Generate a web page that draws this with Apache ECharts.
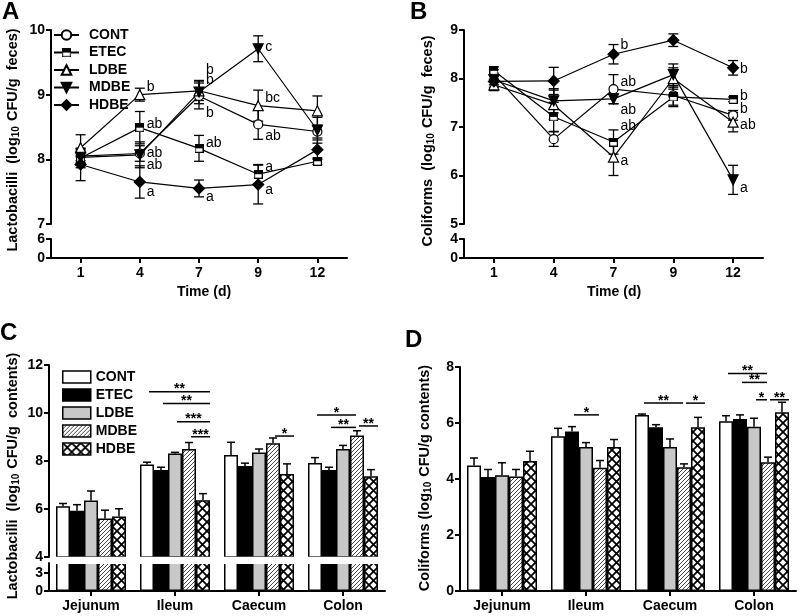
<!DOCTYPE html>
<html><head><meta charset="utf-8">
<script src="https://cdn.jsdelivr.net/npm/echarts@6/dist/echarts.min.js"></script>
<style>html,body{margin:0;padding:0;background:#fff}#c{width:800px;height:616px}</style>
</head><body><div id="c"></div>
<script>
// ---------------- data ----------------
const days = ['1', '4', '7', '9', '12'];
const sites = ['Jejunum', 'Ileum', 'Caecum', 'Colon'];
const groups = ['CONT', 'ETEC', 'LDBE', 'MDBE', 'HDBE'];

// Panel A: Lactobacilli in feces (rows = groups, cols = days)
const lacFecesMean = [
  [8.05, 8.09, 8.98, 8.54, 8.43],
  [8.02, 8.49, 8.17, 7.77, 7.97],
  [8.18, 9.00, 9.06, 8.83, 8.75],
  [8.03, 8.07, 9.04, 9.71, 8.45],
  [7.92, 7.65, 7.55, 7.61, 8.15]
];
const lacFecesSem = [
  [0.10, 0.12, 0.20, 0.23, 0.10],
  [0.15, 0.25, 0.20, 0.15, 0.05],
  [0.20, 0.10, 0.15, 0.24, 0.23],
  [0.10, 0.20, 0.18, 0.20, 0.20],
  [0.25, 0.25, 0.13, 0.30, 0.15]
];
const lacFecesLetters = [
  [1, 9.11, 'b'], [1, 8.54, 'ab'], [1, 8.09, 'ab'], [1, 7.91, 'ab'], [1, 7.49, 'a'],
  [2, 9.38, 'b'], [2, 9.22, 'b'], [2, 8.72, 'b'], [2, 8.25, 'ab'], [2, 7.42, 'a'],
  [3, 9.73, 'c'], [3, 8.94, 'bc'], [3, 8.36, 'ab'], [3, 7.88, 'a'], [3, 7.52, 'a']
];

// Panel B: Coliforms in feces
const colFecesMean = [
  [8.08, 6.75, 7.78, 7.65, 7.24],
  [8.16, 7.21, 6.69, 7.62, 7.57],
  [7.87, 7.46, 6.38, 8.00, 7.10],
  [7.97, 7.54, 7.58, 8.08, 5.91],
  [7.94, 7.95, 8.50, 8.79, 8.22]
];
const colFecesSem = [
  [0.10, 0.15, 0.30, 0.20, 0.10],
  [0.08, 0.30, 0.25, 0.20, 0.05],
  [0.12, 0.30, 0.38, 0.22, 0.20],
  [0.10, 0.25, 0.10, 0.22, 0.30],
  [0.12, 0.28, 0.20, 0.13, 0.15]
];
const colFecesLetters = [
  [2, 8.69, 'b'], [2, 7.93, 'ab'], [2, 7.34, 'ab'], [2, 7.02, 'ab'], [2, 6.29, 'a'],
  [4, 8.19, 'b'], [4, 7.63, 'b'], [4, 7.36, 'b'], [4, 7.03, 'ab'], [4, 5.74, 'a']
];

// Panel C: Lactobacilli in gut contents (rows = groups, cols = sites)
const lacGutMean = [
  [6.11, 7.85, 8.25, 7.92],
  [5.93, 7.62, 7.79, 7.62],
  [6.35, 8.31, 8.35, 8.50],
  [5.60, 8.50, 8.74, 9.06],
  [5.69, 6.36, 7.46, 7.36]
];
const lacGutSem = [
  [0.12, 0.10, 0.53, 0.22],
  [0.25, 0.12, 0.12, 0.12],
  [0.40, 0.05, 0.15, 0.15],
  [0.35, 0.27, 0.22, 0.20],
  [0.32, 0.28, 0.42, 0.28]
];
// [site, fromGroup, toGroup, value, label]
const lacGutSig = [
  [1, 0, 4, 10.89, '**'], [1, 1, 4, 10.40, '**'], [1, 2, 4, 9.64, '***'], [1, 3, 4, 9.01, '***'],
  [2, 3, 4, 9.04, '*'],
  [3, 0, 3, 9.92, '*'], [3, 1, 3, 9.40, '**'], [3, 3, 4, 9.46, '**']
];

// Panel D: Coliforms in gut contents
const colGutMean = [
  [4.48, 5.53, 6.29, 6.06],
  [4.07, 5.70, 5.85, 6.14],
  [4.13, 5.14, 5.14, 5.87],
  [4.09, 4.40, 4.42, 4.60],
  [4.64, 5.14, 5.85, 6.38]
];
const colGutSem = [
  [0.27, 0.28, 0.03, 0.20],
  [0.27, 0.17, 0.09, 0.15],
  [0.45, 0.16, 0.29, 0.30],
  [0.25, 0.26, 0.12, 0.18],
  [0.35, 0.27, 0.35, 0.36]
];
const colGutSig = [
  [1, 1, 3, 6.29, '*'],
  [2, 0, 3, 6.71, '**'], [2, 3, 4, 6.71, '*'],
  [3, 0, 3, 7.77, '**'], [3, 1, 3, 7.45, '**'], [3, 2, 3, 6.83, '*'], [3, 3, 4, 6.83, '**']
];

// ---------------- styles ----------------
const FONT = 'Arial, "Liberation Sans", sans-serif';
const BAR_W = 14;

function makeCanvas(w, h, draw) {
  const c = document.createElement('canvas'); c.width = w; c.height = h;
  draw(c.getContext('2d'), w, h); return c;
}
const halfSquare = 'image://' + makeCanvas(20, 20, (g) => {
  g.fillStyle = '#fff'; g.fillRect(1, 1, 18, 18);
  g.fillStyle = '#000'; g.fillRect(1, 1, 18, 9);
  g.strokeStyle = '#000'; g.lineWidth = 2.5; g.strokeRect(1.25, 1.25, 17.5, 17.5);
}).toDataURL();
const hatch = makeCanvas(4, 4, (g) => {
  g.fillStyle = '#fff'; g.fillRect(0, 0, 4, 4);
  g.strokeStyle = '#333'; g.lineWidth = 0.9; g.beginPath();
  g.moveTo(0, 4); g.lineTo(4, 0); g.moveTo(-1, 1); g.lineTo(1, -1); g.moveTo(3, 5); g.lineTo(5, 3);
  g.stroke();
});
const cross = makeCanvas(9, 9, (g) => {
  g.fillStyle = '#fff'; g.fillRect(0, 0, 9, 9);
  g.strokeStyle = '#000'; g.lineWidth = 1.8; g.beginPath();
  g.moveTo(0, 0); g.lineTo(9, 9); g.moveTo(9, 0); g.lineTo(0, 9);
  g.stroke();
});

const SYM = ['circle', halfSquare, 'triangle', 'triangle', 'diamond'];
const SYM_SIZE = [9, 9, 10, 10, 11];
const SYM_ROT = [0, 0, 0, 180, 0];
const SYM_FILL = ['#fff', '#000', '#fff', '#000', '#000'];
const BAR_STYLE = [
  { color: '#fff', borderColor: '#000', borderWidth: 1.5 },
  { color: '#000', borderColor: '#000', borderWidth: 1.5 },
  { color: '#c8c8c8', borderColor: '#000', borderWidth: 1.5 },
  { color: { image: hatch, repeat: 'repeat' }, borderColor: '#000', borderWidth: 1.5 },
  { color: { image: cross, repeat: 'repeat' }, borderColor: '#000', borderWidth: 1.5 }
];

const axisLine = { show: true, lineStyle: { color: '#000', width: 2 } };
const axisTick = { show: true, length: 5, lineStyle: { color: '#000', width: 2 } };
const axisLabel = { color: '#000', fontFamily: FONT, fontWeight: 'bold', fontSize: 14, margin: 6 };

function yAx(gridIndex, min, max, interval, extra) {
  return Object.assign({
    type: 'value', gridIndex, min, max, interval,
    axisLine, axisTick: Object.assign({}, axisTick), axisLabel: Object.assign({}, axisLabel),
    splitLine: { show: false }
  }, extra || {});
}
function xHidden(gridIndex, data) {
  return { type: 'category', gridIndex, data, show: false, boundaryGap: true };
}
function xShown(gridIndex, data) {
  return {
    type: 'category', gridIndex, data, boundaryGap: true,
    axisLine, axisTick: Object.assign({ alignWithLabel: true }, axisTick),
    axisLabel: Object.assign({}, axisLabel, { margin: 8 })
  };
}

// ---------------- series ----------------
const series = [];

function lineGroup(xi, yi, means) {
  groups.forEach((g, k) => series.push({
    type: 'line', name: g, xAxisIndex: xi, yAxisIndex: yi, data: means[k],
    symbol: SYM[k], symbolSize: SYM_SIZE[k], symbolRotate: SYM_ROT[k],
    lineStyle: { color: '#000', width: 1.2 },
    itemStyle: { color: SYM_FILL[k], borderColor: '#000', borderWidth: 1.2 },
    z: 5, silent: true, animation: false
  }));
}
function lineErr(xi, yi, means, sems) {
  const data = [];
  means.forEach((row, k) => row.forEach((v, i) => data.push([i, v, sems[k][i]])));
  series.push({
    type: 'custom', xAxisIndex: xi, yAxisIndex: yi, data, z: 4, silent: true, animation: false,
    renderItem: (p, api) => {
      const i = api.value(0), v = api.value(1), e = api.value(2);
      const a = api.coord([i, v + e]), b = api.coord([i, v - e]);
      const st = { stroke: '#000', lineWidth: 1.3 };
      return { type: 'group', children: [
        { type: 'line', shape: { x1: a[0], y1: a[1], x2: b[0], y2: b[1] }, style: st },
        { type: 'line', shape: { x1: a[0] - 5, y1: a[1], x2: a[0] + 5, y2: a[1] }, style: st },
        { type: 'line', shape: { x1: b[0] - 5, y1: b[1], x2: b[0] + 5, y2: b[1] }, style: st }
      ] };
    }
  });
}
function letterSeries(xi, yi, letters) {
  series.push({
    type: 'custom', xAxisIndex: xi, yAxisIndex: yi, data: letters.map(d => [d[0], d[1]]),
    z: 6, silent: true, animation: false,
    renderItem: (p, api) => {
      const c = api.coord([api.value(0), api.value(1)]);
      return { type: 'text', x: c[0] + 7, y: c[1], style: {
        text: letters[p.dataIndex][2], fill: '#000', font: '14px ' + FONT,
        align: 'left', verticalAlign: 'middle' } };
    }
  });
}
function barGroup(xi, yi, means) {
  groups.forEach((g, k) => series.push({
    type: 'bar', name: g, xAxisIndex: xi, yAxisIndex: yi, data: means[k],
    barWidth: BAR_W, barGap: '0%', clip: true, itemStyle: BAR_STYLE[k],
    silent: true, animation: false, z: 2
  }));
}
function barErr(xi, yi, means, sems) {
  const data = [];
  means.forEach((row, k) => row.forEach((v, i) => data.push([i, v, sems[k][i], k])));
  series.push({
    type: 'custom', xAxisIndex: xi, yAxisIndex: yi, data, z: 4, silent: true, animation: false,
    renderItem: (p, api) => {
      const i = api.value(0), v = api.value(1), e = api.value(2), k = api.value(3);
      const b = api.coord([i, v]), t = api.coord([i, v + e]);
      const x = b[0] + (k - 2) * BAR_W;
      const st = { stroke: '#000', lineWidth: 1.5 };
      return { type: 'group', children: [
        { type: 'line', shape: { x1: x, y1: b[1], x2: x, y2: t[1] }, style: st },
        { type: 'line', shape: { x1: x - 4, y1: t[1], x2: x + 4, y2: t[1] }, style: st }
      ] };
    }
  });
}
function sigSeries(xi, yi, sig) {
  series.push({
    type: 'custom', xAxisIndex: xi, yAxisIndex: yi, data: sig.map(d => [d[0], d[3]]),
    z: 6, silent: true, animation: false,
    renderItem: (p, api) => {
      const d = sig[p.dataIndex];
      const c = api.coord([api.value(0), api.value(1)]);
      const x1 = c[0] + (d[1] - 2) * BAR_W + 2;
      const x2 = c[0] + (d[2] - 2) * BAR_W + (d[2] === 4 ? 7 : -1);
      return { type: 'group', children: [
        { type: 'line', shape: { x1, y1: c[1], x2, y2: c[1] }, style: { stroke: '#000', lineWidth: 1.5 } },
        { type: 'text', x: (x1 + x2) / 2, y: c[1] + 5, style: {
          text: d[4], fill: '#000', font: 'bold 14px ' + FONT, align: 'center', verticalAlign: 'bottom' } }
      ] };
    }
  });
}

// A
lineErr(0, 0, lacFecesMean, lacFecesSem);
lineGroup(0, 0, lacFecesMean);
letterSeries(0, 0, lacFecesLetters);
// B
lineErr(2, 2, colFecesMean, colFecesSem);
lineGroup(2, 2, colFecesMean);
letterSeries(2, 2, colFecesLetters);
// C
barGroup(4, 4, lacGutMean);
barGroup(5, 5, lacGutMean);
barErr(4, 4, lacGutMean, lacGutSem);
sigSeries(4, 4, lacGutSig);
// D
barGroup(6, 6, colGutMean);
barErr(6, 6, colGutMean, colGutSem);
sigSeries(6, 6, colGutSig);

// ---------------- titles ----------------
function yTitle(x, y, pre, post) {
  return { type: 'text', x, y, rotation: Math.PI / 2, silent: true,
    style: {
      text: '{a|' + pre + '(log}{s|10}{a|' + post + ')}',
      fontFamily: FONT, fontWeight: 'bold', fontSize: 14.5, fill: '#000',
      rich: {
        a: { fontFamily: FONT, fontWeight: 'bold', fontSize: 14.5, fill: '#000' },
        s: { fontFamily: FONT, fontWeight: 'bold', fontSize: 10, fill: '#000', verticalAlign: 'bottom', padding: [6, 1, 0, 0] }
      },
      align: 'center', verticalAlign: 'middle'
    } };
}
function plain(x, y, text, size, align) {
  return { type: 'text', x, y, silent: true,
    style: { text, fill: '#000', font: 'bold ' + size + 'px ' + FONT, align: align || 'left', verticalAlign: 'top' } };
}

// layout of panel C's broken axis
const C_LEFT = 49, C_WIDTH = 336, C_UP_TOP = 365, C_UP_H = 192, C_LOW_TOP = 563, C_LOW_H = 28;

const option = {
  backgroundColor: '#fff',
  animation: false,
  grid: [
    { left: 51, top: 30, width: 296, height: 194 },
    { left: 51, top: 239, width: 296, height: 19 },
    { left: 464, top: 30, width: 299, height: 194 },
    { left: 464, top: 239, width: 299, height: 19 },
    { left: C_LEFT, top: C_UP_TOP, width: C_WIDTH, height: C_UP_H },
    { left: C_LEFT, top: C_LOW_TOP, width: C_WIDTH, height: C_LOW_H },
    { left: 460, top: 367, width: 336, height: 224 }
  ],
  xAxis: [
    xHidden(0, days), xShown(1, days),
    xHidden(2, days), xShown(3, days),
    xHidden(4, sites), xShown(5, sites),
    xShown(6, sites)
  ],
  yAxis: [
    yAx(0, 7, 10, 1), yAx(1, 0, 6, 6),
    yAx(2, 5, 9, 1), yAx(3, 0, 4, 4),
    yAx(4, 4, 12, 2),
    yAx(5, 0, 4.67, 3, {
      axisTick: Object.assign({ customValues: [0, 3] }, axisTick),
      axisLabel: Object.assign({ customValues: [0, 3] }, axisLabel)
    }),
    yAx(6, 0, 8, 2)
  ],
  legend: [
    {
      data: groups, orient: 'vertical', left: 53, top: 28, itemWidth: 25, itemHeight: 12, itemGap: 3.5,
      selectedMode: false, padding: 0,
      textStyle: { color: '#000', fontFamily: FONT, fontWeight: 'bold', fontSize: 14, lineHeight: 12, padding: [0, 0, 0, 5] }
    },
    {
      data: groups.map((g, k) => ({ name: g, icon: 'rect', itemStyle: BAR_STYLE[k] })),
      orient: 'vertical', left: 62, top: 370, itemWidth: 28, itemHeight: 12, itemGap: 4,
      selectedMode: false, padding: 0,
      textStyle: { color: '#000', fontFamily: FONT, fontWeight: 'bold', fontSize: 14, lineHeight: 12, padding: [0, 0, 0, 0] }
    }
  ],
  graphic: [
    // white band for the axis break in panel C (hides clipped bar edges)
    { type: 'rect', silent: true, z: 100,
      shape: { x: C_LEFT + 2, y: C_UP_TOP + C_UP_H - 0.2, width: C_WIDTH, height: C_LOW_TOP - (C_UP_TOP + C_UP_H) + 1.2 },
      style: { fill: '#fff' } },
    plain(2, 0, 'A', 24), plain(410, 0, 'B', 24), plain(0, 321, 'C', 24), plain(405, 328, 'D', 24),
    plain(204, 285, 'Time (d)', 14, 'center'), plain(614, 285, 'Time (d)', 14, 'center'),
    yTitle(13, 140, 'Lactobacilli  ', ' CFU/g  feces'),
    yTitle(428, 141, 'Coliforms  ', ' CFU/g  feces'),
    yTitle(13, 476, 'Lactobacilli  ', ' CFU/g  contents'),
    yTitle(425, 478, 'Coliforms ', ' CFU/g contents')
  ],
  series
};

const chart = echarts.init(document.getElementById('c'), null, { renderer: 'canvas' });
chart.setOption(option);
</script>
</body></html>
